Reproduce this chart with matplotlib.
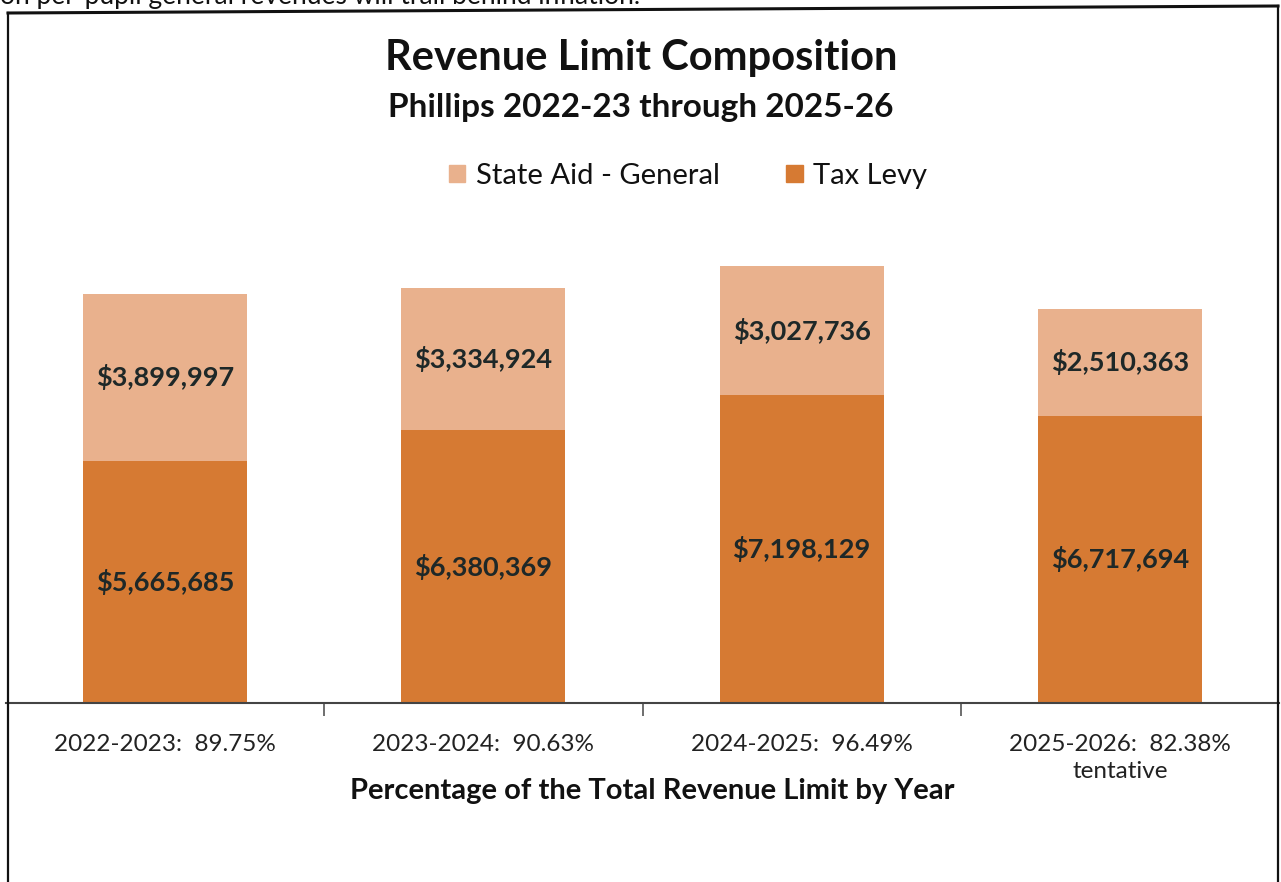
import matplotlib
matplotlib.use("Agg")
import matplotlib.pyplot as plt
from matplotlib.lines import Line2D
from matplotlib.patches import Patch

# data
years = ["2022-2023:  89.75%", "2023-2024:  90.63%", "2024-2025:  96.49%",
         "2025-2026:  82.38%\ntentative"]
tax_levy = [5665685, 6380369, 7198129, 6717694]
state_aid = [3899997, 3334924, 3027736, 2510363]

tax_color = "#D67A33"
aid_color = "#E9B18D"
text_color = "#1E2828"

plt.rcParams["font.family"] = ["Lato", "DejaVu Sans"]

W, H = 1281, 882
fig = plt.figure(figsize=(W / 100, H / 100), dpi=100)

# axes span the full box width, baseline at y=703px
ax = fig.add_axes([6 / W, (H - 703) / H, 1273 / W, 513 / H])
x = list(range(len(years)))
bw = 0.516
ax.bar(x, tax_levy, width=bw, color=tax_color, label="Tax Levy", zorder=2)
ax.bar(x, state_aid, width=bw, bottom=tax_levy, color=aid_color,
       label="State Aid - General", zorder=2)

for i in x:
    ax.text(i, tax_levy[i] / 2, "${:,}".format(tax_levy[i]), ha="center",
            va="center", fontsize=19.5, fontweight="bold", color=text_color)
    ax.text(i, tax_levy[i] + state_aid[i] / 2, "${:,}".format(state_aid[i]),
            ha="center", va="center", fontsize=19.5, fontweight="bold",
            color=text_color)

ax.set_xlim(-0.5, 3.5)
ax.set_ylim(0, 12000000)
ax.set_yticks([])
ax.set_xticks(x)
ax.set_xticklabels(years, fontsize=17.5, color="#222222", linespacing=1.35)
ax.tick_params(axis="x", which="major", length=0, pad=22)
ax.set_xticks([0.5, 1.5, 2.5], minor=True)
ax.tick_params(axis="x", which="minor", length=9, width=1.2, color="#555555",
               direction="out")
for s in ["top", "left", "right"]:
    ax.spines[s].set_visible(False)
ax.spines["bottom"].set_color("#444444")
ax.spines["bottom"].set_linewidth(1.5)
ax.patch.set_alpha(0)

# titles
fig.text(641 / W, 1 - 58 / H, "Revenue Limit Composition", ha="center",
         va="center", fontsize=30, fontweight="bold", color="#111111")
fig.text(641 / W, 1 - 107 / H, "Phillips 2022-23 through 2025-26",
         ha="center", va="center", fontsize=24, fontweight="bold",
         color="#111111")
fig.text(652 / W, 1 - 791 / H, "Percentage of the Total Revenue Limit by Year",
         ha="center", va="center", fontsize=21, fontweight="bold",
         color="#111111")

handles = [Patch(color=aid_color, label="State Aid - General"),
           Patch(color=tax_color, label="Tax Levy")]
fig.legend(handles=handles, loc="center", bbox_to_anchor=(688 / W, 1 - 176 / H),
           ncol=2, frameon=False, fontsize=21, handlelength=0.55,
           handleheight=0.55, handletextpad=0.35, columnspacing=2.3,
           labelcolor="#111111")

# cut-off line of text above the box
fig.text(0, 1 - 4 / H, "on per-pupil general revenues will trail behind inflation.",
         ha="left", va="baseline", fontsize=19, color="#111111")

# box around the chart
fig.add_artist(Line2D([8 / W, 1278 / W], [1 - 13 / H, 1 - 6 / H],
                      transform=fig.transFigure, color="#111111", lw=2.2))
fig.add_artist(Line2D([8 / W, 8 / W], [1 - 13 / H, 0],
                      transform=fig.transFigure, color="#111111", lw=1.6))
fig.add_artist(Line2D([1278 / W, 1278 / W], [1 - 6 / H, 0],
                      transform=fig.transFigure, color="#111111", lw=1.6))

fig.savefig("out.png", dpi=100, facecolor="white")
